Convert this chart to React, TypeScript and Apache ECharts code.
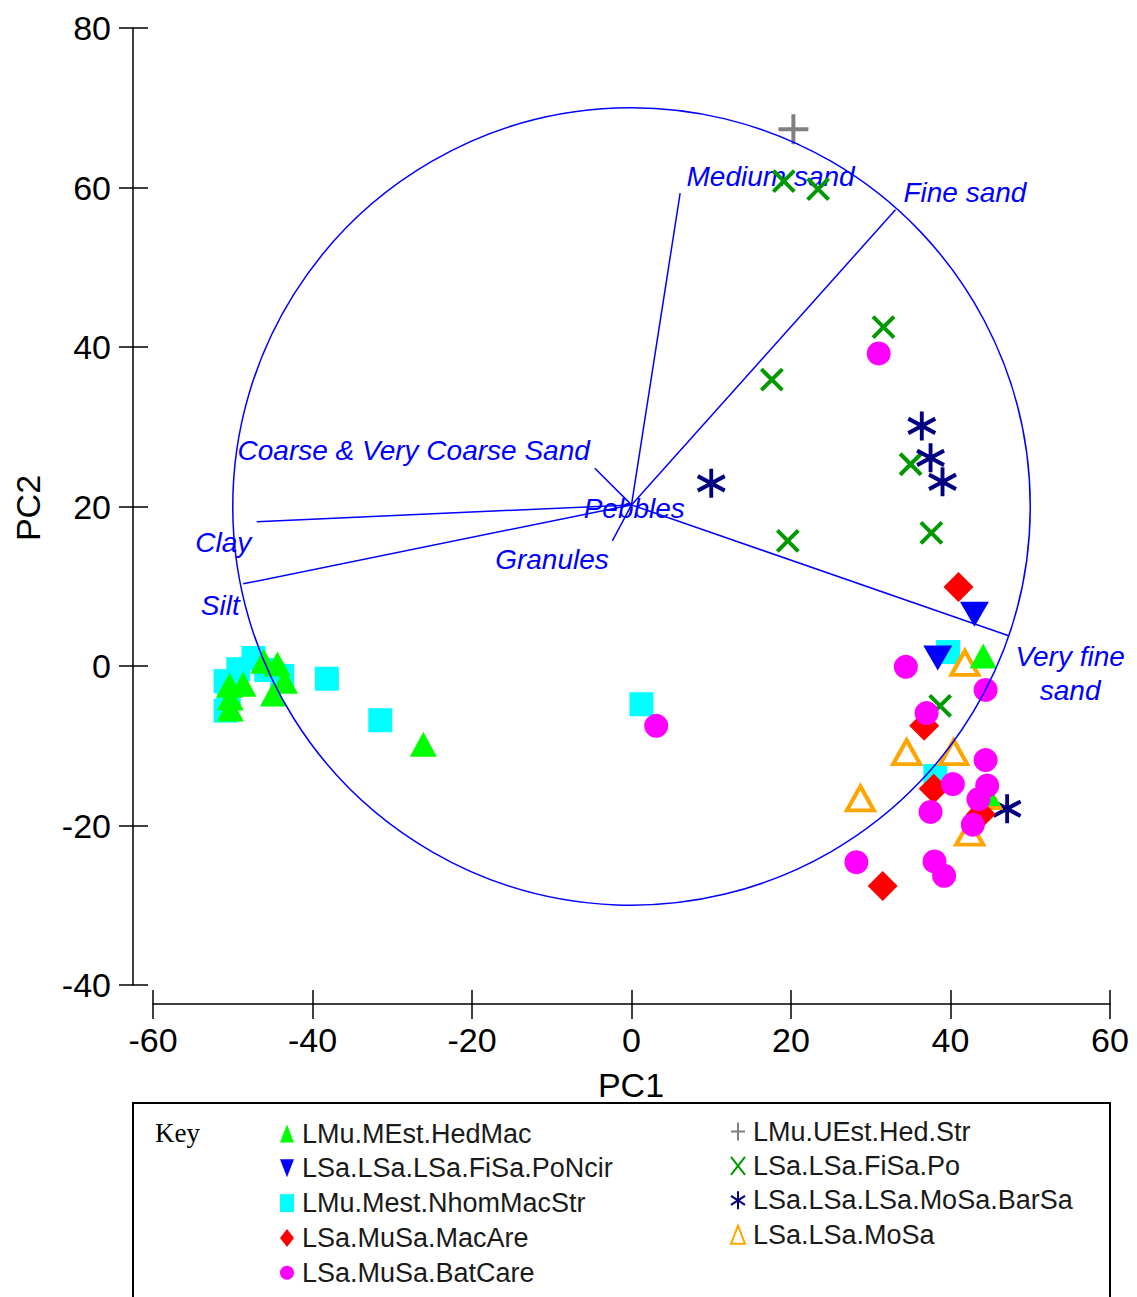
import React, { useEffect, useRef } from "react";
import * as echarts from "echarts";

const xMin = -60, xMax = 60, xStep = 20;
const yMin = -40, yMax = 80, yStep = 20;

const seriesNames = [
  "LMu.MEst.HedMac",
  "LSa.LSa.LSa.FiSa.PoNcir",
  "LMu.Mest.NhomMacStr",
  "LSa.MuSa.MacAre",
  "LSa.MuSa.BatCare",
  "LMu.UEst.Hed.Str",
  "LSa.LSa.FiSa.Po",
  "LSa.LSa.LSa.MoSa.BarSa",
  "LSa.LSa.MoSa",
];

const hedMac = [
  [-46.1, 0.6], [-44.4, 0.25], [-43.5, -1.9], [-44.9, -3.5], [-50.4, -2.4],
  [-48.7, -2.3], [-50.3, -4.0], [-50.3, -5.4], [-26.1, -9.8], [44.1, 1.25], [44.6, -16.0],
];
const poNcir = [[43.0, 6.5], [38.4, 1.0]];
const nhomMacStr = [
  [-47.4, 1.0], [-45.8, -0.5], [-43.8, -1.25], [-50.9, -1.9], [-49.3, -0.4], [-50.5, -3.8],
  [-50.9, -5.6], [-38.2, -1.6], [-31.5, -6.8], [1.25, -4.8], [39.7, 1.75], [38.1, -13.8],
];
const macAre = [[41.0, 9.9], [36.7, -7.5], [37.9, -15.4], [43.8, -18.6], [31.5, -27.6]];
const batCare = [
  [31.0, 39.2], [3.1, -7.5], [34.4, -0.1], [44.4, -3.0], [37.0, -5.9], [44.4, -11.8],
  [40.3, -14.8], [44.6, -15.0], [43.5, -16.7], [37.5, -18.3], [42.8, -19.9], [28.2, -24.6],
  [38.0, -24.5], [39.2, -26.3],
];
const hedStr = [[20.3, 67.3]];
const fiSaPo = [
  [19.1, 60.8], [23.4, 59.8], [31.6, 42.5], [17.6, 35.9], [35.0, 25.3], [37.6, 16.7],
  [19.6, 15.7], [38.7, -5.0],
];
const barSa = [[10.0, 22.9], [36.4, 30.1], [37.5, 26.1], [39.0, 23.1], [47.1, -17.9]];
const moSa = [[41.8, 0.4], [34.5, -10.8], [40.4, -10.8], [28.7, -16.6], [44.5, -16.3], [42.4, -20.9]];

const circleCenter = [0, 20];
const circleRadius = 50;

const vectorOrigin = [0, 20.2];
const vectorEnds = [
  [6.1, 59.3], [33.1, 57.2], [47.3, 3.8], [-47.0, 18.1], [-48.7, 10.3], [-4.6, 24.8], [-2.4, 15.7],
];
const vectorLabels = [
  "Medium sand", "Fine sand", "Very fine\nsand", "Clay", "Silt",
  "Coarse & Very Coarse Sand", "Granules", "Pebbles",
];
const vectorLabelAt = [
  [6.9, 61.4], [34.1, 59.4], [55.0, -0.9], [-54.7, 15.5], [-54.0, 7.6],
  [-49.4, 27.0], [-17.1, 13.4], [-6.0, 19.7],
];
const vectorLabelAlign = ["left", "left", "center", "left", "left", "left", "left", "left"];

const FONT = '"Liberation Sans", Arial, Helvetica, sans-serif';
const BLUE = "#0000FF";

export default function App() {
  const ref = useRef<HTMLDivElement>(null);
  useEffect(() => {
    if (!ref.current) return;
    const chart = echarts.init(ref.current, null, { renderer: "svg" });

    const scatter = (name: string, data: number[][], extra: any) => ({
      type: "scatter",
      name,
      data,
      z: 3,
      ...extra,
    });

    const axisCommon = {
      type: "value",
      splitLine: { show: false },
    };

    const legendText = {
      fontSize: 27, color: "#1a1a1a", fontFamily: FONT, lineHeight: 26, padding: [0, 0, 0, 3],
    };

    const legendItems = seriesNames.map((n, i) =>
      i === 1 ? { name: n, icon: "path://M0,0 L10,0 L5,10 Z" } : { name: n }
    );

    const option: any = {
      animation: false,
      grid: { left: 153, top: 28, width: 957, height: 957, containLabel: false },
      xAxis: [
        {
          ...axisCommon,
          min: xMin, max: xMax, interval: xStep,
          position: "bottom",
          offset: 19,
          axisLine: { show: true, onZero: false, lineStyle: { color: "#000", width: 1.5 } },
          axisTick: { show: true, length: 15, inside: false, lineStyle: { color: "#000", width: 1.5 } },
          axisLabel: { fontSize: 34, color: "#000", fontFamily: FONT, margin: 19 },
        },
        {
          ...axisCommon,
          min: xMin, max: xMax, interval: xStep,
          position: "bottom",
          offset: 19,
          axisLine: { show: false, onZero: false },
          axisTick: { show: true, length: 14, inside: true, lineStyle: { color: "#000", width: 1.5 } },
          axisLabel: { show: false },
        },
      ],
      yAxis: [
        {
          ...axisCommon,
          min: yMin, max: yMax, interval: yStep,
          position: "left",
          offset: 20,
          axisLine: { show: true, onZero: false, lineStyle: { color: "#000", width: 1.5 } },
          axisTick: { show: true, length: 14, inside: false, lineStyle: { color: "#000", width: 1.5 } },
          axisLabel: { fontSize: 34, color: "#000", fontFamily: FONT, margin: 22 },
        },
        {
          ...axisCommon,
          min: yMin, max: yMax, interval: yStep,
          position: "left",
          offset: 20,
          axisLine: { show: false, onZero: false },
          axisTick: { show: true, length: 15, inside: true, lineStyle: { color: "#000", width: 1.5 } },
          axisLabel: { show: false },
        },
      ],
      legend: [
        {
          data: legendItems.slice(0, 5),
          orient: "vertical",
          left: 275,
          top: 1115,
          itemWidth: 14,
          itemHeight: 18,
          itemGap: 7.8,
          symbolKeepAspect: false,
          selectedMode: false,
          textStyle: legendText,
        },
        {
          data: legendItems.slice(5),
          orient: "vertical",
          left: 725,
          top: 1113,
          itemWidth: 14,
          itemHeight: 18,
          itemGap: 7.4,
          symbolKeepAspect: false,
          selectedMode: false,
          textStyle: legendText,
        },
      ],
      graphic: [
        {
          type: "rect",
          shape: { x: 133, y: 1103, width: 977, height: 300 },
          style: { fill: "none", stroke: "#000", lineWidth: 2 },
        },
        {
          type: "text",
          x: 155,
          y: 1133,
          style: {
            text: "Key", fill: "#000", font: '27px "Liberation Serif", "Times New Roman", serif',
            textAlign: "left", textVerticalAlign: "middle", align: "left", verticalAlign: "middle",
          },
        },
        {
          type: "text",
          x: 631,
          y: 1085,
          style: {
            text: "PC1", fill: "#000", font: `34px ${FONT}`,
            textAlign: "center", textVerticalAlign: "middle", align: "center", verticalAlign: "middle",
          },
        },
        {
          type: "text",
          x: 28,
          y: 508,
          rotation: Math.PI / 2,
          style: {
            text: "PC2", fill: "#000", font: `34px ${FONT}`,
            textAlign: "center", textVerticalAlign: "middle", align: "center", verticalAlign: "middle",
          },
        },
      ],
      series: [
        {
          type: "custom",
          name: "vectorLabels",
          silent: true,
          z: 1,
          data: vectorLabelAt,
          encode: { x: 0, y: 1 },
          renderItem: (params: any, api: any) => {
            const i = params.dataIndex;
            const p = api.coord([api.value(0), api.value(1)]);
            return {
              type: "text",
              x: p[0],
              y: p[1],
              style: {
                text: vectorLabels[i],
                fill: BLUE,
                font: `italic 28px ${FONT}`,
                lineHeight: 34,
                textAlign: vectorLabelAlign[i],
                align: vectorLabelAlign[i],
                textVerticalAlign: "middle",
                verticalAlign: "middle",
              },
            };
          },
        },
        scatter(seriesNames[5], hedStr, {
          symbol: "path://M0,5 L10,5 M5,0 L5,10",
          symbolSize: 30,
          itemStyle: { color: "#808080", borderColor: "#808080", borderWidth: 4, opacity: 1 },
        }),
        scatter(seriesNames[6], fiSaPo, {
          symbol: "path://M0,0 L10,10 M10,0 L0,10",
          symbolSize: 21,
          itemStyle: { color: "#009900", borderColor: "#009900", borderWidth: 4, opacity: 1 },
        }),
        scatter(seriesNames[7], barSa, {
          symbol: "path://M5,0 L5,10 M0.67,2.5 L9.33,7.5 M0.67,7.5 L9.33,2.5",
          symbolSize: [27, 29],
          itemStyle: { color: "#000080", borderColor: "#000080", borderWidth: 4, opacity: 1 },
        }),
        scatter(seriesNames[2], nhomMacStr, {
          symbol: "rect",
          symbolSize: 24,
          itemStyle: { color: "#00FFFF", opacity: 1 },
        }),
        scatter(seriesNames[8], moSa, {
          symbol: "triangle",
          symbolSize: [27, 24],
          itemStyle: { color: "#FFFFFF", borderColor: "#FFA500", borderWidth: 4, opacity: 1 },
        }),
        scatter(seriesNames[0], hedMac, {
          symbol: "triangle",
          symbolSize: [27, 25],
          itemStyle: { color: "#00FF00", opacity: 1 },
        }),
        scatter(seriesNames[1], poNcir, {
          symbol: "triangle",
          symbolRotate: 180,
          symbolSize: [29, 25],
          itemStyle: { color: "#0000FF", opacity: 1 },
        }),
        scatter(seriesNames[3], macAre, {
          symbol: "diamond",
          symbolSize: 30,
          itemStyle: { color: "#FF0000", opacity: 1 },
        }),
        scatter(seriesNames[4], batCare, {
          symbol: "circle",
          symbolSize: 24,
          itemStyle: { color: "#FF00FF", opacity: 1 },
        }),
        {
          type: "custom",
          name: "circle",
          silent: true,
          z: 5,
          data: [[circleCenter[0], circleCenter[1], circleRadius]],
          encode: { x: 0, y: 1 },
          renderItem: (params: any, api: any) => {
            const c = api.coord([api.value(0), api.value(1)]);
            const s = api.size([api.value(2), api.value(2)]);
            return {
              type: "circle",
              shape: { cx: c[0], cy: c[1], r: s[0] },
              style: { fill: "none", stroke: BLUE, lineWidth: 1.5 },
            };
          },
        },
        {
          type: "custom",
          name: "vectors",
          silent: true,
          z: 5,
          data: vectorEnds.map((e) => [vectorOrigin[0], vectorOrigin[1], e[0], e[1]]),
          encode: { x: [0, 2], y: [1, 3] },
          renderItem: (params: any, api: any) => {
            const a = api.coord([api.value(0), api.value(1)]);
            const b = api.coord([api.value(2), api.value(3)]);
            return {
              type: "line",
              shape: { x1: a[0], y1: a[1], x2: b[0], y2: b[1] },
              style: { stroke: BLUE, lineWidth: 1.5 },
            };
          },
        },
      ],
    };

    chart.setOption(option);
    return () => chart.dispose();
  }, []);

  return (
    <div
      ref={ref}
      style={{ position: "absolute", left: 0, top: 0, width: 1137, height: 1297, background: "#fff" }}
    />
  );
}
